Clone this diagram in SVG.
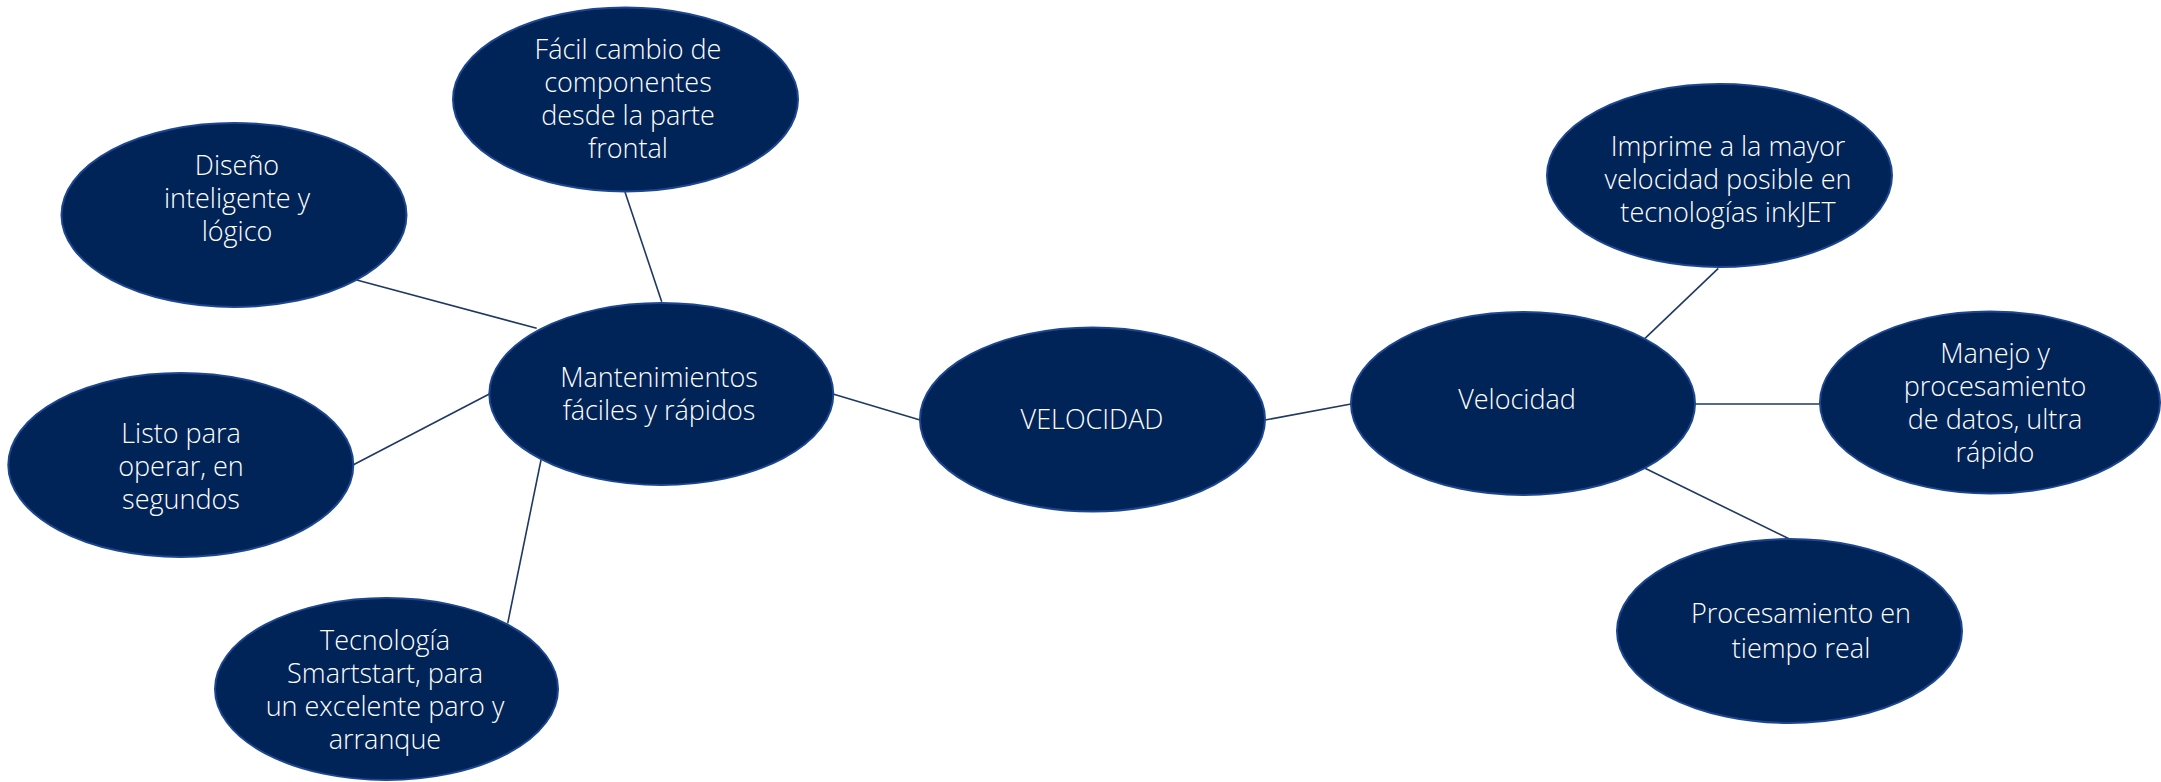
<svg xmlns="http://www.w3.org/2000/svg" width="2161" height="782" viewBox="0 0 2161 782">
<style>
.n{fill:#002457;stroke:#1c4690;stroke-width:2}
.t{fill:#ffffff;font-family:"Open Sans","Liberation Sans",sans-serif;font-weight:300;font-size:27px;text-anchor:middle}
.c{stroke:#1f3864;stroke-width:1.6;fill:none}
</style>
<rect width="2161" height="782" fill="#ffffff"/>
<g id="connectors">
<line class="c" x1="625" y1="192" x2="661.7" y2="301.7"/>
<line class="c" x1="356.7" y1="280" x2="536.7" y2="328.3"/>
<line class="c" x1="353" y1="465" x2="489.3" y2="394"/>
<line class="c" x1="507.7" y1="623.3" x2="541" y2="460"/>
<line class="c" x1="833" y1="394" x2="920" y2="420"/>
<line class="c" x1="1265" y1="420" x2="1351" y2="404"/>
<line class="c" x1="1645" y1="338.3" x2="1718.3" y2="268.3"/>
<line class="c" x1="1695" y1="404" x2="1820" y2="404"/>
<line class="c" x1="1645" y1="468.3" x2="1790" y2="539.3"/>
</g>
<g id="node-facil">
<ellipse class="n" cx="625.5" cy="99.5" rx="172.5" ry="92"/>
<text class="t" x="628" y="59">Fácil cambio de</text>
<text class="t" x="628" y="92">componentes</text>
<text class="t" x="628" y="125">desde la parte</text>
<text class="t" x="628" y="158">frontal</text>
</g>
<g id="node-diseno">
<ellipse class="n" cx="234" cy="215" rx="172.5" ry="92"/>
<text class="t" x="237" y="175">Diseño</text>
<text class="t" x="237" y="208">inteligente y</text>
<text class="t" x="237" y="241">lógico</text>
</g>
<g id="node-mantenimientos">
<ellipse class="n" cx="661.3" cy="394" rx="172" ry="91"/>
<text class="t" x="659" y="387">Mantenimientos</text>
<text class="t" x="659" y="420">fáciles y rápidos</text>
</g>
<g id="node-listo">
<ellipse class="n" cx="180.8" cy="465" rx="172.5" ry="92"/>
<text class="t" x="181" y="443">Listo para</text>
<text class="t" x="181" y="476">operar, en</text>
<text class="t" x="181" y="509">segundos</text>
</g>
<g id="node-tecnologia">
<ellipse class="n" cx="386.5" cy="689" rx="171.5" ry="91"/>
<text class="t" x="385" y="650">Tecnología</text>
<text class="t" x="385" y="683">Smartstart, para</text>
<text class="t" x="385" y="716">un excelente paro y</text>
<text class="t" x="385" y="749">arranque</text>
</g>
<g id="node-velocidad-main">
<ellipse class="n" cx="1092.5" cy="419.5" rx="172.5" ry="92"/>
<text class="t" x="1092" y="429">VELOCIDAD</text>
</g>
<g id="node-velocidad">
<ellipse class="n" cx="1523" cy="403.5" rx="172" ry="91.5"/>
<text class="t" x="1517" y="409">Velocidad</text>
</g>
<g id="node-imprime">
<ellipse class="n" cx="1719.5" cy="175.5" rx="172.5" ry="91.5"/>
<text class="t" x="1728" y="156">Imprime a la mayor</text>
<text class="t" x="1728" y="189">velocidad posible en</text>
<text class="t" x="1728" y="222">tecnologías inkJET</text>
</g>
<g id="node-manejo">
<ellipse class="n" cx="1990" cy="402.5" rx="170" ry="91"/>
<text class="t" x="1995" y="363">Manejo y</text>
<text class="t" x="1995" y="396">procesamiento</text>
<text class="t" x="1995" y="429">de datos, ultra</text>
<text class="t" x="1995" y="462">rápido</text>
</g>
<g id="node-procesamiento">
<ellipse class="n" cx="1789.5" cy="631" rx="172.5" ry="92"/>
<text class="t" x="1801" y="623">Procesamiento en</text>
<text class="t" x="1801" y="658">tiempo real</text>
</g>
</svg>
